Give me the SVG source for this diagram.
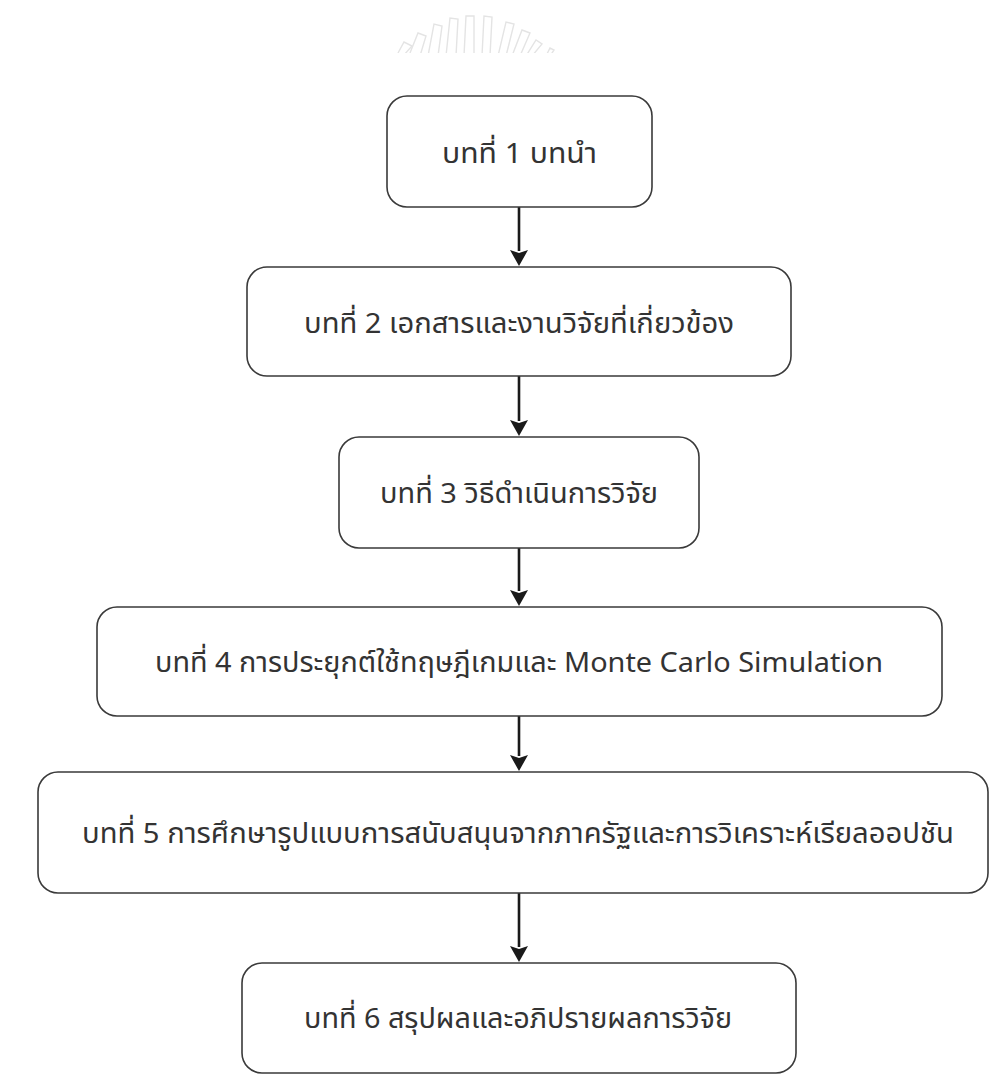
<svg xmlns="http://www.w3.org/2000/svg" width="990" height="1088" viewBox="0 0 990 1088">
  <style>
    .box { fill: #ffffff; stroke: #3a3a3a; stroke-width: 1.6; }
    .lbl { font-family: "Noto Sans Thai", "Noto Sans", "Liberation Sans", sans-serif; font-size: 28px; fill: #333333; text-anchor: middle; }
    .conn { stroke: #1a1a1a; stroke-width: 2.6; fill: none; marker-end: url(#arrow); }
    .wm { stroke: #e4e4e4; stroke-width: 1.4; fill: none; }
  </style>
  <defs>
    <marker id="arrow" markerUnits="userSpaceOnUse" markerWidth="16" markerHeight="18" viewBox="0 0 16 18" refX="1" refY="9" orient="auto">
      <path d="M0,0 L16,9 L0,18 L3,9 z" fill="#1a1a1a"/>
    </marker>
    <clipPath id="wmclip"><rect x="380" y="0" width="280" height="53"/></clipPath>
  </defs>
  <rect x="0" y="0" width="990" height="1088" fill="#ffffff"/>

  <g id="watermark" clip-path="url(#wmclip)">
    <path class="wm" d="M398,53 L404,42 L412,46 L403,56"/>
    <path class="wm" d="M410,53 L418,33 L426,36 L420,56"/>
    <path class="wm" d="M428,56 L434,24 L442,26 L438,56"/>
    <path class="wm" d="M446,56 L450,18 L458,19 L456,56"/>
    <path class="wm" d="M464,56 L466,16 L474,16 L474,56"/>
    <path class="wm" d="M482,56 L484,16 L492,17 L490,56"/>
    <path class="wm" d="M498,56 L506,22 L514,24 L506,56"/>
    <path class="wm" d="M512,56 L522,30 L530,33 L520,56"/>
    <path class="wm" d="M526,56 L536,40 L542,44 L532,56"/>
    <path class="wm" d="M546,56 L550,48 L554,50 L550,56"/>
  </g>

  <g id="connectors">
    <line class="conn" x1="519" y1="207" x2="519" y2="251"/>
    <line class="conn" x1="519" y1="376" x2="519" y2="421"/>
    <line class="conn" x1="519" y1="548" x2="519" y2="591"/>
    <line class="conn" x1="519" y1="716" x2="519" y2="756"/>
    <line class="conn" x1="519" y1="893" x2="519" y2="947"/>
  </g>

  <g id="node1">
    <rect class="box" x="387" y="96" width="265" height="111" rx="20" ry="20"/>
    <text class="lbl" x="519.5" y="163" textLength="155" lengthAdjust="spacingAndGlyphs">บทที่ 1 บทนำ</text>
  </g>
  <g id="node2">
    <rect class="box" x="247" y="267" width="544" height="109" rx="20" ry="20"/>
    <text class="lbl" x="519" y="333" textLength="430" lengthAdjust="spacingAndGlyphs">บทที่ 2 เอกสารและงานวิจัยที่เกี่ยวข้อง</text>
  </g>
  <g id="node3">
    <rect class="box" x="339" y="437" width="360" height="111" rx="20" ry="20"/>
    <text class="lbl" x="519" y="503" textLength="278" lengthAdjust="spacingAndGlyphs">บทที่ 3 วิธีดำเนินการวิจัย</text>
  </g>
  <g id="node4">
    <rect class="box" x="97" y="607" width="845" height="109" rx="20" ry="20"/>
    <text class="lbl" x="519" y="672" textLength="728" lengthAdjust="spacingAndGlyphs">บทที่ 4 การประยุกต์ใช้ทฤษฎีเกมและ Monte Carlo Simulation</text>
  </g>
  <g id="node5">
    <rect class="box" x="38" y="772" width="950" height="121" rx="20" ry="20"/>
    <text class="lbl" x="518" y="843" textLength="872" lengthAdjust="spacingAndGlyphs">บทที่ 5 การศึกษารูปแบบการสนับสนุนจากภาครัฐและการวิเคราะห์เรียลออปชัน</text>
  </g>
  <g id="node6">
    <rect class="box" x="242" y="963" width="554" height="110" rx="20" ry="20"/>
    <text class="lbl" x="518" y="1028" textLength="428" lengthAdjust="spacingAndGlyphs">บทที่ 6 สรุปผลและอภิปรายผลการวิจัย</text>
  </g>
</svg>
